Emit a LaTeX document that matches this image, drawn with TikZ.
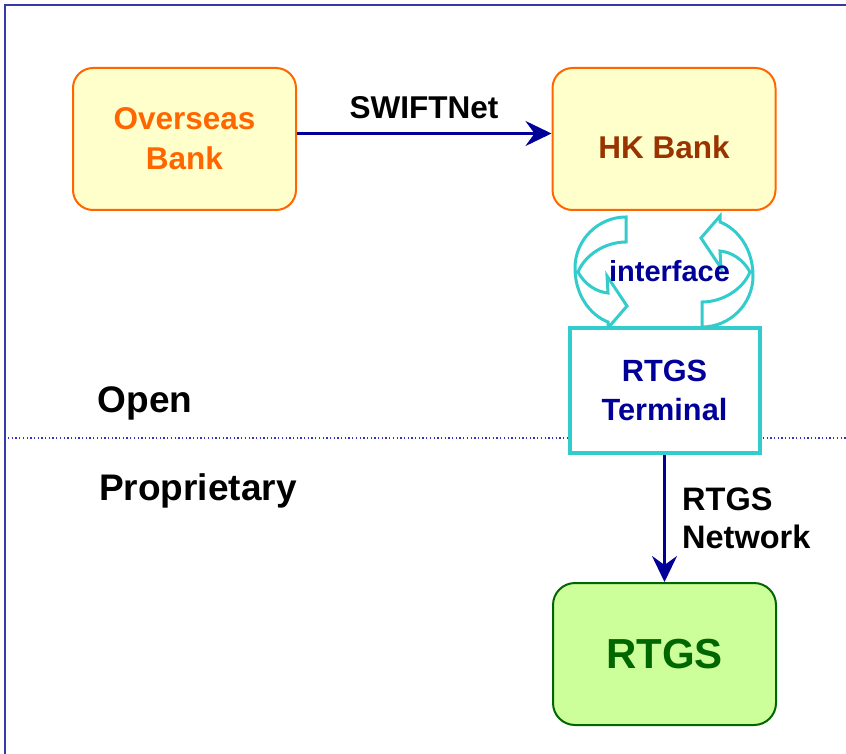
\documentclass[tikz,border=0pt]{standalone}
\usepackage{fontspec}
\setmainfont{Liberation Sans}
\usetikzlibrary{arrows.meta}

\definecolor{frameblue}{HTML}{3838A8}
\definecolor{dotblue}{HTML}{3333CC}
\definecolor{linknavy}{HTML}{000099}
\definecolor{bankorange}{HTML}{FF6600}
\definecolor{bankfill}{HTML}{FFFFCC}
\definecolor{hkbrown}{HTML}{993300}
\definecolor{termcyan}{HTML}{33CCCC}
\definecolor{rtgsfill}{HTML}{CCFF99}
\definecolor{rtgsgreen}{HTML}{006600}

\newcommand\boldsz[2]{\fontsize{#1}{#2}\selectfont\bfseries}

\tikzset{
  bankbox/.style={draw=bankorange, line width=2pt, fill=bankfill,
    rounded corners=20pt, minimum width=223pt, minimum height=142pt,
    inner sep=0pt, align=center},
  termbox/.style={draw=termcyan, line width=4pt, fill=white,
    minimum width=190pt, minimum height=125pt, inner sep=0pt,
    align=center, text=linknavy},
  rtgsbox/.style={draw=rtgsgreen, line width=2pt, fill=rtgsfill,
    rounded corners=22pt, minimum width=223pt, minimum height=142pt,
    inner sep=0pt, text=rtgsgreen},
  link/.style={draw=linknavy, line width=2.6pt,
    -{Stealth[length=26pt, width=25pt, inset=9pt]}},
  plain/.style={inner sep=0pt, text=black},
  turnarrow/.pic={
    \path[draw=termcyan, line width=3pt, fill=white, line join=miter]
      (25,-55) .. controls (-3,-55) and (-26,-32) .. (-26,-4)
      .. controls (-26,23) and (-11,43) .. (7,50)
      -- (7,56) -- (26,34) -- (6,4) -- (7,21)
      .. controls (-4,20) and (-16,13) .. (-23,0)
      .. controls (-16,-17) and (4,-30) .. (25,-30) -- cycle;
  }
}

\begin{document}
\begin{tikzpicture}[x=1pt, y=-1pt]
  \useasboundingbox (0,0) rectangle (846,754);

  % frame along the top and left edges
  \draw[frameblue, line width=2pt] (5,754) -- (5,5.5) -- (846,5.5);

  % boundary between the open and proprietary zones
  \draw[dotblue, line width=1.3pt, dash pattern=on 1.3pt off 2.4pt] (8,438) -- (846,438);

  % zone labels
  \node[plain, anchor=base west, font=\boldsz{37}{44}] (open) at (97.5,412) {Open};
  \node[plain, anchor=base west, font=\boldsz{37}{44}] (prop) at (99,500) {Proprietary};

  % banks
  \node[bankbox, text=bankorange, font=\boldsz{31.5}{40}] (ob) at (184.5,139) {Overseas\\Bank};
  \node[bankbox, text=hkbrown, font=\boldsz{31.5}{40}, text height=40pt, text depth=0pt] (hk) at (664,139) {HK Bank};

  % SWIFT link
  \draw[link] ([yshift=5.5pt]ob.east) -- ([yshift=5.5pt]hk.west);
  \node[plain, anchor=base, font=\boldsz{31.5}{38}] (swift) at (424,119) {SWIFTNet};

  % interface arrows between the bank and its terminal
  \pic at (601,272) {turnarrow};
  \pic[rotate=180] at (727,272) {turnarrow};
  \node[plain, anchor=base, text=linknavy, font=\boldsz{29}{35}] (iface) at (669.5,281) {interface};

  % terminal and RTGS
  \node[termbox, font=\boldsz{30.7}{39}] (term) at (664.5,390.5) {RTGS\\Terminal};
  \node[rtgsbox, font=\boldsz{42}{48}] (rtgs) at (664.5,654) {RTGS};

  \draw[link] (term.south) -- (rtgs.north);
  \node[plain, anchor=north west, align=left, font=\boldsz{32.5}{38}] (net) at (682,488) {RTGS\\Network};
\end{tikzpicture}
\end{document}
